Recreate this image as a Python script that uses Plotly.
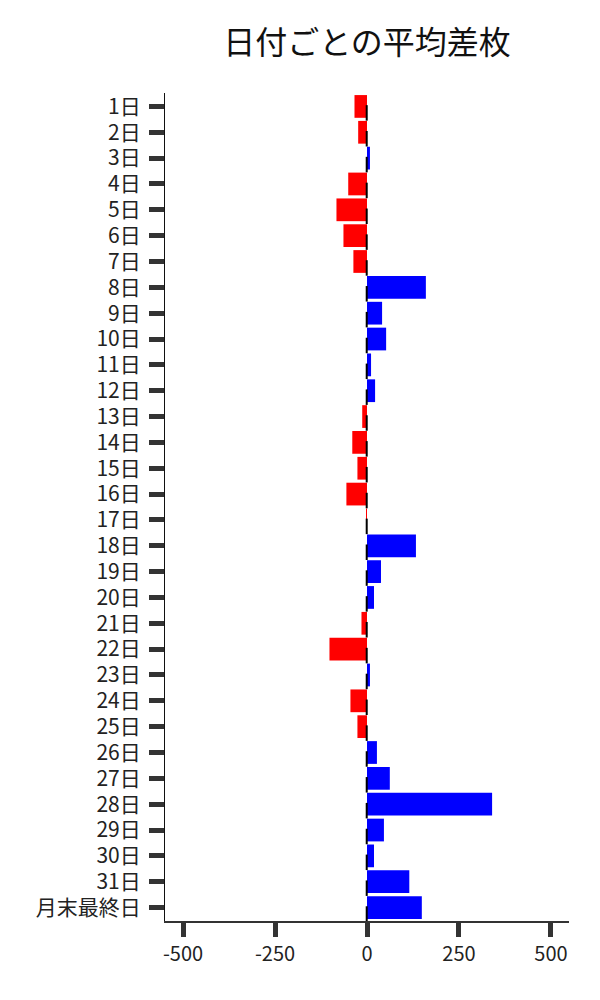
import plotly.graph_objects as go

days = [f"{i}日" for i in range(1, 32)] + ["月末最終日"]
values = [-34, -24, 8, -51, -83, -64, -37, 160, 41, 52, 11, 22, -13, -40, -26, -56,
          -1, 133, 38, 19, -15, -102, 8, -45, -26, 27, 62, 340, 46, 19, 115, 149]
colors = ["#ff0000" if v < 0 else "#0000ff" for v in values]
xticks = [-500, -250, 0, 250, 500]

idx = list(range(len(days)))

fig = go.Figure()
fig.add_trace(go.Bar(
    x=values, y=idx, orientation="h", marker=dict(color=colors, line=dict(width=0)),
    width=0.88, showlegend=False, hoverinfo="x+text", text=days, textposition="none",
))

# short black marks at zero under each bar centre
lx, ly = [], []
for i in idx:
    lx += [-0.8, -0.8, None]
    ly += [i - 0.05, i + 0.55, None]
fig.add_trace(go.Scatter(x=lx, y=ly, mode="lines", line=dict(color="black", width=2),
                         showlegend=False, hoverinfo="skip"))

# page body adds an 8px offset; margins compensate for it
fig.update_layout(
    width=600, height=1000,
    margin=dict(l=157, r=39, t=85, b=87),
    paper_bgcolor="white", plot_bgcolor="white",
    font=dict(family="Noto Sans CJK JP", size=20, color="#222"),
    title=dict(text="日付ごとの平均差枚", x=359 / 600, xanchor="center",
               y=1 - 35 / 1000, yanchor="middle",
               font=dict(family="Noto Sans CJK JP", size=32, color="#111")),
    bargap=0.12,
)
fig.update_xaxes(
    range=[-549, 549], tickvals=xticks, ticktext=[str(v) for v in xticks],
    showgrid=False, zeroline=False, showline=True, linecolor="#333", linewidth=1.5,
    ticks="outside", ticklen=14, tickwidth=5, tickcolor="#333",
    tickfont=dict(size=20, color="#222"),
)
fig.update_yaxes(
    range=[31.52, -0.52], tickvals=idx, ticktext=days,
    showgrid=False, zeroline=False, showline=True, linecolor="#111", linewidth=1.2,
    ticks="outside", ticklen=15, tickwidth=5, tickcolor="#333",
    tickfont=dict(size=21, color="#222"), ticklabelstandoff=4,
)

fig.write_html("out.html")
